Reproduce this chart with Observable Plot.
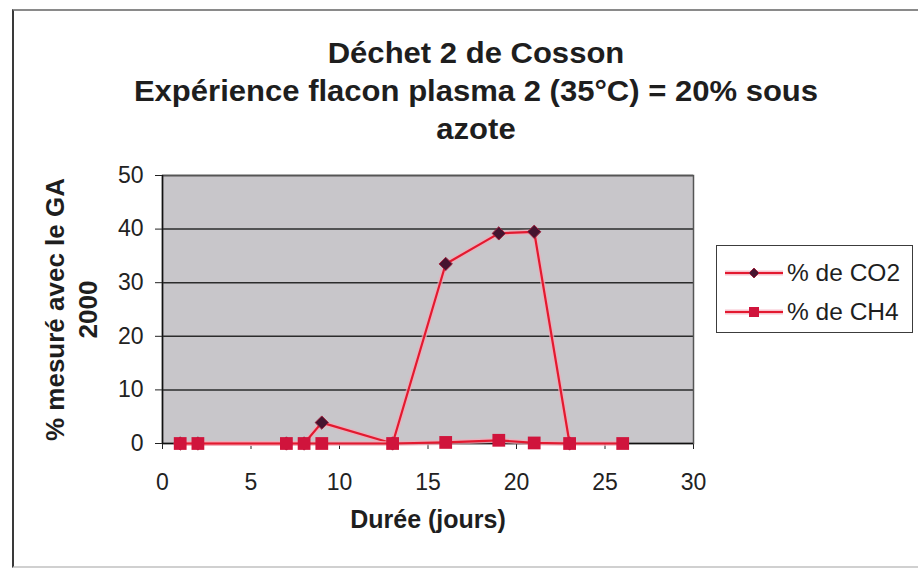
<!DOCTYPE html>
<html>
<head>
<meta charset="utf-8">
<script src="https://cdn.jsdelivr.net/npm/d3@7"></script>
<script src="https://cdn.jsdelivr.net/npm/@observablehq/plot@0.6"></script>
<style>
  html, body { margin: 0; padding: 0; background: #fff; }
  body { font-family: "Liberation Sans", Arial, sans-serif; color: #1e1e1e; }
  #wrap { position: relative; width: 918px; height: 569px; overflow: hidden; }
  #border { position: absolute; left: 12px; top: 9px; width: 920px; height: 555px;
            border-top: 2px solid #8a8a8a; border-left: 2px solid #3a3a3a; border-bottom: 2px solid #d0d0d0; }
  .title { position: absolute; left: 0; width: 952px; text-align: center; font-weight: bold;
           font-size: 29px; line-height: 38px; transform: scaleX(1.07); transform-origin: 476px 0; }
  #chart { position: absolute; left: 0; top: 160px; }
  #chart svg { overflow: visible; }
  #legend { position: absolute; left: 716px; top: 245px; width: 195px; height: 86px;
            border: 1.5px solid #3c3c3c; background: #fff; }
  .row { position: absolute; left: 0; height: 30px; display: flex; align-items: center; }
  .row svg { margin-left: 8px; }
  .row span { font-size: 24.5px; margin-left: 4px; }
</style>
</head>
<body>
<div id="wrap">
  <div id="border"></div>
  <div class="title" style="top:34px">Déchet 2 de Cosson</div>
  <div class="title" style="top:72px">Expérience flacon plasma 2 (35°C) = 20% sous</div>
  <div class="title" style="top:110px">azote</div>
  <div id="chart"></div>
  <div id="legend"></div>
</div>
<script>
// Sampling days (jours) and measured gas percentages
const daysCO2 = [1, 2, 7, 8, 9, 13, 16, 19, 21, 23];
const valuesCO2 = [0, 0, 0, 0, 3.9, 0, 33.5, 39.2, 39.5, 0];
const daysCH4 = [1, 2, 7, 8, 9, 13, 16, 19, 21, 23, 26];
const valuesCH4 = [0, 0, 0, 0, 0, 0, 0.2, 0.6, 0.1, 0, 0];

const seriesNames = ["% de CO2", "% de CH4"];
const xTicks = [0, 5, 10, 15, 20, 25, 30];
const yTicks = [0, 10, 20, 30, 40, 50];
const xTitle = "Durée (jours)";
const yTitle = "% mesuré avec le GA\n2000";

const lineRed = "#e3192f";
const haze = "#f3a9b8";
const co2Fill = "#45142f";
const ch4Fill = "#d0143c";

const co2 = daysCO2.map((d, i) => ({day: d, value: valuesCO2[i]}));
const ch4 = daysCH4.map((d, i) => ({day: d, value: valuesCH4[i]}));

const chart = Plot.plot({
  width: 918,
  height: 409,
  marginLeft: 162,
  marginRight: 225,
  marginTop: 15,
  marginBottom: 126,
  style: {fontFamily: "'Liberation Sans', Arial, sans-serif", fontSize: "23px", color: "#222", background: "transparent", overflow: "visible"},
  x: {domain: [0, 30], ticks: xTicks, tickSize: 6, tickPadding: 24, label: null},
  y: {domain: [0, 50], ticks: yTicks, tickSize: 7, tickPadding: 12, label: null},
  marks: [
    Plot.frame({fill: "#c8c6ca", stroke: null}),
    Plot.ruleY(yTicks.slice(1), {stroke: "#2b2b2b", strokeWidth: 1.5}),
    Plot.frame({stroke: "#555", strokeWidth: 1.5}),
    Plot.ruleX([0], {stroke: "#111", strokeWidth: 1.5}),
    Plot.ruleY([0], {stroke: "#111", strokeWidth: 1.5}),
    Plot.line(co2, {x: "day", y: "value", stroke: haze, strokeWidth: 5, strokeOpacity: 0.7}),
    Plot.line(co2, {x: "day", y: "value", stroke: lineRed, strokeWidth: 2.2}),
    Plot.dot(co2, {x: "day", y: "value", symbol: "diamond2", r: 6, fill: co2Fill, stroke: "#a0213e", strokeWidth: 1}),
    Plot.line(ch4, {x: "day", y: "value", stroke: haze, strokeWidth: 5, strokeOpacity: 0.7}),
    Plot.line(ch4, {x: "day", y: "value", stroke: lineRed, strokeWidth: 2.2}),
    Plot.dot(ch4, {x: "day", y: "value", symbol: "square", r: 7.2, fill: ch4Fill, stroke: null}),
    Plot.text([xTitle], {frameAnchor: "bottom", dy: 84, fontWeight: "bold", fontSize: 25, fill: "#1e1e1e"}),
    Plot.text([yTitle], {frameAnchor: "left", textAnchor: "middle", lineAnchor: "middle", dx: -93, rotate: -90,
      fontWeight: "bold", fontSize: 26, lineHeight: 1.27, fill: "#1e1e1e"})
  ]
});
document.getElementById("chart").appendChild(chart);

// Legend: one row per series with line + marker swatch
const legend = d3.select("#legend");
const swatches = [
  {name: seriesNames[0], marker: "diamond", fill: co2Fill},
  {name: seriesNames[1], marker: "square", fill: ch4Fill}
];
swatches.forEach((s, i) => {
  const row = legend.append("div").attr("class", "row").style("top", (12 + i * 39) + "px");
  const svg = row.append("svg").attr("width", 58).attr("height", 30);
  svg.append("line").attr("x1", 0).attr("x2", 58).attr("y1", 15).attr("y2", 15)
    .attr("stroke", haze).attr("stroke-width", 5).attr("stroke-opacity", 0.7);
  svg.append("line").attr("x1", 0).attr("x2", 58).attr("y1", 15).attr("y2", 15)
    .attr("stroke", lineRed).attr("stroke-width", 2);
  if (s.marker === "diamond") {
    svg.append("path").attr("d", "M29,10L34,15L29,20L24,15Z").attr("fill", s.fill).attr("stroke", "#a0213e");
  } else {
    svg.append("rect").attr("x", 24).attr("y", 10).attr("width", 10).attr("height", 10).attr("fill", s.fill);
  }
  row.append("span").text(s.name);
});
</script>
</body>
</html>
